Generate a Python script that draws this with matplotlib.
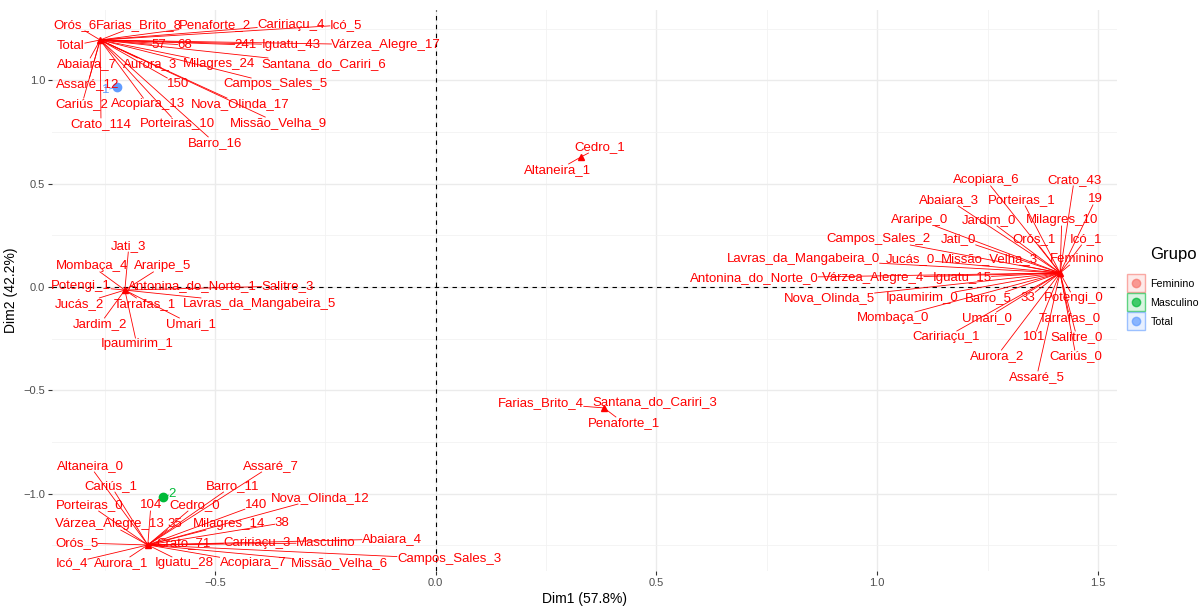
import matplotlib
matplotlib.use("Agg")
import numpy as np
from matplotlib import pyplot as plt
from matplotlib.lines import Line2D
from matplotlib.legend_handler import HandlerTuple

plt.rcParams["font.family"] = ["Liberation Sans", "DejaVu Sans"]

# row points (categories stacked at the same coordinates)
cluster_x = [-0.760, -0.704, -0.652, 1.414, 0.329, 0.381]
cluster_y = [1.195, -0.015, -1.248, 0.068, 0.629, -0.585]

# labels per cluster: text, repelled label x, label y
tl_text = ["Orós_6", "Farias_Brito_8", "Penaforte_2", "Caririaçu_4", "Icó_5",
           "Total", "57", "68", "241", "Iguatu_43", "Várzea_Alegre_17",
           "Abaiara_7", "Aurora_3", "Milagres_24", "Santana_do_Cariri_6",
           "Assaré_12", "150", "Campos_Sales_5", "Cariús_2", "Acopiara_13",
           "Nova_Olinda_17", "Crato_114", "Porteiras_10", "Missão_Velha_9", "Barro_16"]
tl_lx = [-0.817, -0.672, -0.500, -0.328, -0.203,
         -0.826, -0.627, -0.568, -0.430, -0.328, -0.112,
         -0.790, -0.647, -0.491, -0.253,
         -0.788, -0.584, -0.364, -0.801, -0.652,
         -0.443, -0.758, -0.586, -0.357, -0.500]
tl_ly = [1.268, 1.268, 1.268, 1.268, 1.268,
         1.166, 1.171, 1.171, 1.171, 1.171, 1.171,
         1.079, 1.079, 1.079, 1.079,
         0.982, 0.982, 0.982, 0.885, 0.885,
         0.885, 0.789, 0.793, 0.793, 0.697]

ml_text = ["Jati_3", "Mombaça_4", "Araripe_5", "Potengi_1", "Antonina_do_Norte_1",
           "Salitre_3", "Jucás_2", "Tarrafas_1", "Lavras_da_Mangabeira_5",
           "Jardim_2", "Umari_1", "Ipaumirim_1"]
ml_lx = [-0.695, -0.779, -0.618, -0.803, -0.550, -0.335, -0.806, -0.658, -0.400,
         -0.760, -0.554, -0.677]
ml_ly = [0.198, 0.102, 0.102, 0.005, 0.005, 0.005, -0.082, -0.082, -0.082,
         -0.179, -0.179, -0.276]

bl_text = ["Altaneira_0", "Assaré_7", "Cariús_1", "Barro_11", "Porteiras_0", "104",
           "Cedro_0", "140", "Nova_Olinda_12", "Várzea_Alegre_13", "35", "Milagres_14",
           "38", "Abaiara_4", "Orós_5", "Crato_71", "Caririaçu_3", "Masculino",
           "Campos_Sales_3", "Icó_4", "Aurora_1", "Iguatu_28", "Acopiara_7", "Missão_Velha_6"]
bl_lx = [-0.783, -0.373, -0.735, -0.461, -0.783, -0.645,
         -0.545, -0.407, -0.262, -0.738, -0.591, -0.468,
         -0.348, -0.099, -0.813, -0.572, -0.405, -0.249,
         0.030, -0.824, -0.713, -0.570, -0.414, -0.217]
bl_ly = [-0.866, -0.866, -0.963, -0.963, -1.055, -1.055,
         -1.055, -1.055, -1.021, -1.147, -1.147, -1.147,
         -1.142, -1.219, -1.238, -1.238, -1.238, -1.238,
         -1.316, -1.335, -1.335, -1.335, -1.335, -1.335]

r_text = ["Acopiara_6", "Crato_43", "Abaiara_3", "Porteiras_1", "19", "Araripe_0",
          "Jardim_0", "Milagres_10", "Campos_Sales_2", "Jati_0", "Orós_1", "Icó_1",
          "Lavras_da_Mangabeira_0", "Jucás_0", "Missão_Velha_3", "Feminino",
          "Antonina_do_Norte_0", "Várzea_Alegre_4", "Iguatu_15", "Nova_Olinda_5",
          "Ipaumirim_0", "Barro_5", "33", "Potengi_0", "Mombaça_0", "Umari_0",
          "Tarrafas_0", "Caririaçu_1", "101", "Salitre_0", "Aurora_2", "Cariús_0", "Assaré_5"]
r_lx = [1.246, 1.446, 1.163, 1.328, 1.495, 1.095,
        1.253, 1.418, 1.002, 1.183, 1.355, 1.473,
        0.832, 1.076, 1.253, 1.452,
        0.721, 0.990, 1.192, 0.891,
        1.101, 1.251, 1.341, 1.445, 1.035, 1.248,
        1.436, 1.156, 1.355, 1.452, 1.271, 1.450, 1.361]
r_ly = [0.518, 0.518, 0.421, 0.421, 0.426, 0.324,
        0.324, 0.324, 0.232, 0.232, 0.232, 0.232,
        0.135, 0.135, 0.135, 0.135,
        0.044, 0.044, 0.044, -0.053,
        -0.053, -0.053, -0.053, -0.053, -0.150, -0.150,
        -0.150, -0.242, -0.242, -0.242, -0.334, -0.334, -0.435]

up_text = ["Cedro_1", "Altaneira_1"]
up_lx = [0.372, 0.277]
up_ly = [0.677, 0.566]

dn_text = ["Farias_Brito_4", "Santana_do_Cariri_3", "Penaforte_1"]
dn_lx = [0.238, 0.497, 0.426]
dn_ly = [-0.561, -0.556, -0.658]

# column points (groups)
col_text = ["1", "2"]
col_group = ["Total", "Masculino"]
col_x = [-0.722, -0.618]
col_y = [0.968, -1.016]
col_lx = [-0.747, -0.597]
col_ly = [0.953, -1.001]

groups = ["Feminino", "Masculino", "Total"]
group_colors = {"Feminino": "#F8766D", "Masculino": "#00BA38", "Total": "#619CFF"}

label_sets = [(tl_text, tl_lx, tl_ly), (ml_text, ml_lx, ml_ly), (bl_text, bl_lx, bl_ly),
              (r_text, r_lx, r_ly), (up_text, up_lx, up_ly), (dn_text, dn_lx, dn_ly)]


def clip_segment(p0, c, bb):
    """点からラベル中心への線分をラベル枠で切る"""
    d = c - p0
    ts = []
    for k, (lo, hi) in enumerate([(bb.x0, bb.x1), (bb.y0, bb.y1)]):
        if d[k] > 0:
            ts.append((lo - p0[k]) / d[k])
        elif d[k] < 0:
            ts.append((hi - p0[k]) / d[k])
        else:
            ts.append(-np.inf)
    t = max(ts)
    if t <= 0:
        return None
    return p0 + t * d


fig = plt.figure(figsize=(12.04, 6.06), dpi=100)
ax = fig.add_axes([52 / 1204, 1 - 571 / 606, 1065 / 1204, 561 / 606])
ax.set_xlim(-0.869, 1.543)
ax.set_ylim(-1.374, 1.340)

ax.set_xticks([-0.5, 0.0, 0.5, 1.0, 1.5])
ax.set_yticks([-1.0, -0.5, 0.0, 0.5, 1.0])
ax.set_xticks([-0.75, -0.25, 0.25, 0.75, 1.25], minor=True)
ax.set_yticks([-1.25, -0.75, -0.25, 0.25, 0.75, 1.25], minor=True)
ax.grid(True, which="major", color="#EBEBEB", linewidth=1.0)
ax.grid(True, which="minor", color="#F2F2F2", linewidth=0.6)
ax.set_axisbelow(True)
for s in ax.spines.values():
    s.set_visible(False)
ax.tick_params(which="major", length=3, width=0.8, color="#333333",
               labelsize=8, labelcolor="#4D4D4D", pad=2)
ax.tick_params(which="minor", length=0)

ax.axhline(0, color="black", linestyle=(0, (4, 4)), linewidth=0.8, zorder=1)
ax.axvline(0, color="black", linestyle=(0, (4, 4)), linewidth=0.8, zorder=1)

ax.set_xlabel("Dim1 (57.8%)", fontsize=10, labelpad=3)
ax.set_ylabel("Dim2 (42.2%)", fontsize=10, labelpad=4)

# row points
ax.plot(cluster_x, cluster_y, linestyle="none", marker="^", ms=4, color="red", zorder=3)

# column points
for g, x, y in zip(col_group, col_x, col_y):
    ax.plot(x, y, marker="o", ms=6, color=group_colors[g], linestyle="none", zorder=3)

texts = []
for i, (names, lx, ly) in enumerate(label_sets):
    for n, x, y in zip(names, lx, ly):
        t = ax.text(x, y, n, color="red", fontsize=9.5, ha="center", va="center", zorder=4)
        texts.append((t, cluster_x[i], cluster_y[i]))
for n, g, x, y, px, py in zip(col_text, col_group, col_lx, col_ly, col_x, col_y):
    t = ax.text(x, y, n, color=group_colors[g], fontsize=9.5, ha="center", va="center", zorder=4)
    texts.append((t, px, py))

fig.canvas.draw()
renderer = fig.canvas.get_renderer()
inv = ax.transData.inverted()
for t, px, py in texts:
    bb = t.get_window_extent(renderer)
    p0 = ax.transData.transform((px, py))
    c = np.array([(bb.x0 + bb.x1) / 2, (bb.y0 + bb.y1) / 2])
    end = clip_segment(np.array(p0), c, bb)
    if end is None or np.hypot(*(end - p0)) < 4:
        continue
    ex, ey = inv.transform(end)
    ax.plot([px, ex], [py, ey], color=t.get_color(), linewidth=0.6, zorder=2)

# legend
handles = []
for g in groups:
    col = group_colors[g]
    box = Line2D([], [], marker="s", ms=13.5, linestyle="none",
                 markerfacecolor=matplotlib.colors.to_rgba(col, 0.15),
                 markeredgecolor=matplotlib.colors.to_rgba(col, 0.6), markeredgewidth=1.0)
    dot = Line2D([], [], marker="o", ms=6, linestyle="none",
                 color=matplotlib.colors.to_rgba(col, 0.7))
    handles.append((box, dot))
fig.legend(handles, groups, handler_map={tuple: HandlerTuple(ndivide=1)},
           loc="center left", bbox_to_anchor=(1129 / 1204, 1 - 303 / 606),
           frameon=False, fontsize=7.7, handlelength=1.3, handletextpad=0.7,
           labelspacing=0.85, borderpad=0, borderaxespad=0)
fig.text(1150 / 1204, 1 - 254 / 606, "Grupo", fontsize=12, va="center", ha="left")

fig.savefig("out.png", dpi=100)
